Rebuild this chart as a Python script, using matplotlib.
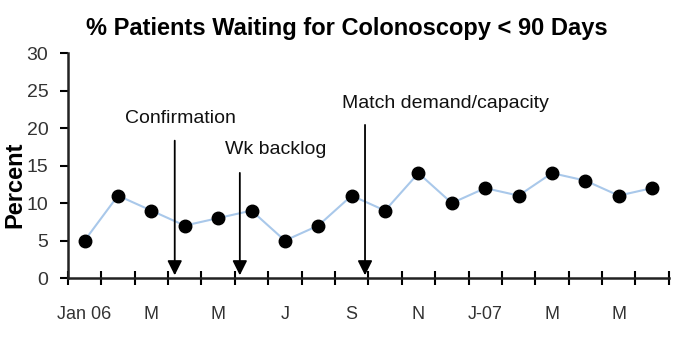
import matplotlib
matplotlib.use('Agg')
import matplotlib.pyplot as plt
import numpy as np

# monthly values, Jan 06 .. Jun 07
months = ['Jan 06', 'Feb', 'Mar', 'Apr', 'May', 'Jun', 'Jul', 'Aug', 'Sep',
          'Oct', 'Nov', 'Dec', 'J-07', 'Feb', 'Mar', 'Apr', 'May', 'Jun']
percent = [5, 11, 9, 7, 8, 9, 5, 7, 11, 9, 14, 10, 12, 11, 14, 13, 11, 12]
tick_labels = ['Jan 06', 'M', 'M', 'J', 'S', 'N', 'J-07', 'M', 'M']

# annotations: label, arrow x (month index), arrow top, text x, text y
notes = ['Confirmation', 'Wk backlog', 'Match demand/capacity']
note_arrow_x = [2.7, 4.65, 8.4]
note_arrow_top = [18.7, 14.4, 20.8]
note_text_x = [1.2, 4.2, 7.7]
note_text_y = [21.3, 17.2, 23.3]

plt.rcParams['font.family'] = ['Liberation Sans', 'DejaVu Sans']

fig = plt.figure(figsize=(6.79, 3.52), dpi=100)
ax = fig.add_axes([0.1, 0.21, 0.885, 0.639])

x = np.arange(len(percent))
ax.plot(x, percent, color='#a9c8ea', lw=1.5, zorder=2)
ax.plot(x, percent, 'o', color='black', ms=9, zorder=3)

ax.set_xlim(-0.5, len(percent) - 0.5)
ax.set_ylim(0, 30)
ax.set_yticks(range(0, 31, 5))
ax.set_xticks(x[::2])
ax.set_xticklabels(tick_labels)
ax.set_xticks(np.arange(-0.5, len(percent)), minor=True)
ax.tick_params(axis='x', which='major', length=0, pad=20, labelsize=13)
ax.tick_params(axis='x', which='minor', length=10, width=1.5, direction='inout')
ax.tick_params(axis='y', length=6, width=1.5, direction='out', labelsize=14, pad=8,
               labelcolor='#333333')
ax.tick_params(axis='x', labelcolor='#333333')

for s in ['top', 'right']:
    ax.spines[s].set_visible(False)
for s in ['left', 'bottom']:
    ax.spines[s].set_linewidth(1.8)
    ax.spines[s].set_color('#222222')

for label, ax_x, top, tx, ty in zip(notes, note_arrow_x, note_arrow_top, note_text_x, note_text_y):
    ax.annotate('', xy=(ax_x, 0), xytext=(ax_x, top),
                arrowprops=dict(arrowstyle='-|>', color='black', lw=1.3, mutation_scale=22),
                zorder=4, annotation_clip=False)
    ax.text(tx, ty, label, fontsize=14, ha='left', va='center', color='#111111')

fig.text(0.022, 0.475, 'Percent', rotation=90, ha='center', va='center',
         fontsize=17, fontweight='bold')
fig.text(0.511, 0.92, '% Patients Waiting for Colonoscopy < 90 Days',
         ha='center', va='center', fontsize=17, fontweight='bold')

fig.savefig('out.png', dpi=100)
